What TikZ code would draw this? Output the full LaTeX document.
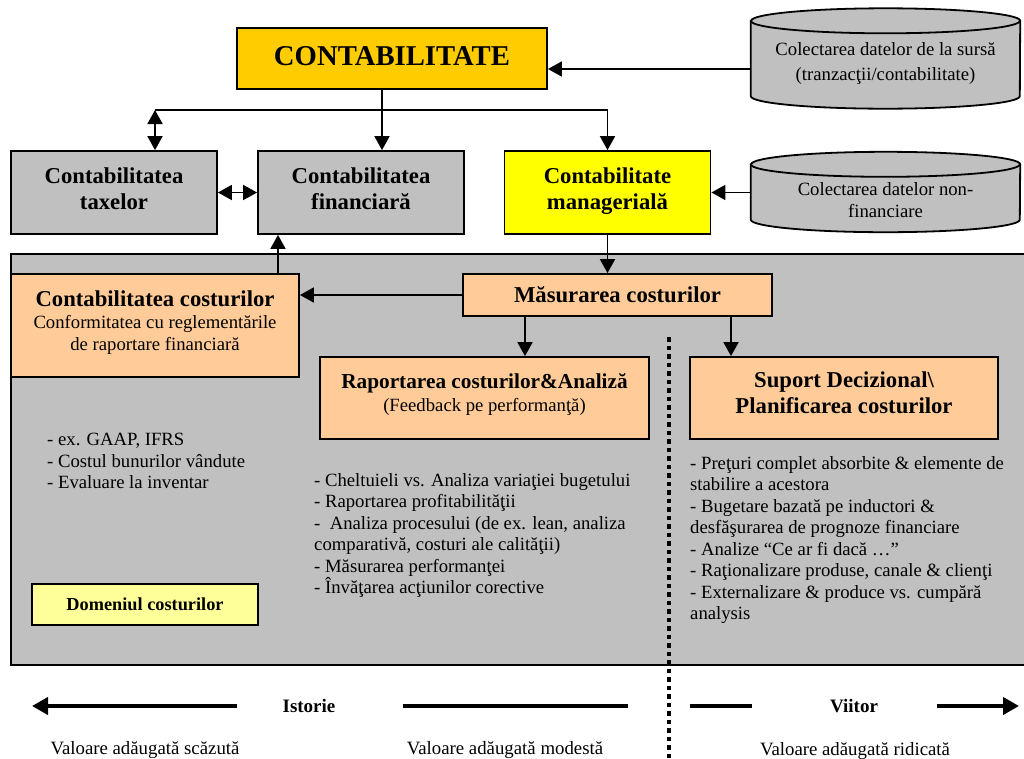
\documentclass[tikz,border=0pt]{standalone}
\usepackage{fontspec}
\setmainfont{Liberation Serif}
\usepackage{xcolor}
\definecolor{goldfill}{HTML}{FFCC00}
\definecolor{yellowfill}{HTML}{FFFF00}
\definecolor{grayfill}{HTML}{C0C0C0}
\definecolor{peachfill}{HTML}{FFCC99}
\definecolor{paleyellow}{HTML}{FFFF99}
\usetikzlibrary{arrows.meta,backgrounds}

\begin{document}
\begin{tikzpicture}[x=1pt, y=-1pt,
    box/.style={draw, line width=1.8pt, inner sep=0pt, align=center},
    graybox/.style={box, fill=grayfill, minimum width=206pt, minimum height=83pt, text depth=8pt, font=\fontsize{22.7}{26.5}\selectfont\bfseries},
    peachbox/.style={box, fill=peachfill},
    storebox/.style={minimum width=269pt, minimum height=100pt, inner sep=0pt, align=center, font=\fontsize{18.7}{24.5}\selectfont},
    drum/.style={draw, line width=1.8pt, fill=grayfill},
    drumcap/.style={x radius=134.5pt, y radius=12.5pt},
    link/.style={-{Triangle[length=14pt, width=15pt]}, line width=1.8pt},
    both/.style={{Triangle[length=14pt, width=15pt]}-{Triangle[length=14pt, width=15pt]}, line width=1.8pt},
    timeline/.style={line width=4pt},
    timearrow/.style={-{Triangle[length=16pt, width=17pt]}, line width=4pt},
    dotline/.style={line width=4.5pt, dash pattern=on 4.5pt off 4pt},
    listtext/.style={align=left, inner sep=0pt, anchor=north west, font=\fontsize{18.7}{21.5}\selectfont}
]
  \useasboundingbox (0,0) rectangle (1024,758);

  % Top level
  \node[box, fill=goldfill, minimum width=310pt, minimum height=61pt, text depth=6pt, font=\fontsize{28.7}{32}\selectfont\bfseries] (acct) at (392,58.5) {CONTABILITATE};
  \node[storebox, text height=47pt] (srcdata) at (885.5,58.5) {Colectarea datelor de la sursă\\(tranzacţii/contabilitate)};

  % Second level
  \node[graybox] (tax) at (114,192.5) {Contabilitatea\\taxelor};
  \node[graybox] (fin) at (361,192.5) {Contabilitatea\\financiară};
  \node[graybox, fill=yellowfill] (mgmt) at (607.5,192.5) {Contabilitate\\managerială};
  \node[storebox, minimum height=80pt, text height=51pt, font=\fontsize{18.7}{22}\selectfont] (nonfin) at (885.5,192) {Colectarea datelor non-\\financiare};

  % Data stores drawn behind their texts
  \begin{scope}[on background layer]
    \foreach \store in {srcdata, nonfin} {
      \filldraw[drum] ([yshift=-12.5pt]\store.north west) -- ([yshift=12.5pt]\store.south west)
        arc[start angle=180, end angle=360, drumcap] -- ([yshift=-12.5pt]\store.north east)
        arc[start angle=0, end angle=180, drumcap] -- cycle;
      \draw[drum, fill=none] ([yshift=-12.5pt]\store.north west) arc[start angle=180, end angle=360, drumcap];
    }
  \end{scope}

  \coordinate (forkL) at (155,110);
  \coordinate (forkR) at (607.5,110);
  \coordinate (acctdown) at ([xshift=-10pt]acct.south);
  \coordinate (srcout) at ([yshift=-10.5pt]srcdata.west);

  \draw[link] (srcout) -- (srcout -| acct.east);
  \draw[link] (acctdown) -- (acctdown |- fin.north);
  \draw[line width=1.8pt] (forkL) -- (forkR);
  \draw[both] (forkL) -- (forkL |- tax.north);
  \draw[link] (forkR) -- (mgmt.north);
  \draw[both] (tax.east) -- (fin.west);
  \draw[link] (nonfin.west |- mgmt.east) -- (mgmt.east);

  % Cost area
  \draw[line width=1.8pt, fill=grayfill] (11,254) rectangle (1030,665);

  \node[peachbox, minimum width=309pt, minimum height=42pt, font=\fontsize{22.7}{26}\selectfont\bfseries] (measure) at (617.5,295) {Măsurarea costurilor};
  \node[peachbox, minimum width=288pt, minimum height=103pt, text depth=10pt, font=\fontsize{18.7}{22}\selectfont] (costacct) at (155,325.5) {{\fontsize{22.7}{25}\selectfont\bfseries Contabilitatea costurilor}\\Conformitatea cu reglementările\\de raportare financiară};
  \node[peachbox, minimum width=329pt, minimum height=82pt, text depth=12pt, font=\fontsize{18.7}{23}\selectfont] (report) at (484.5,398) {{\fontsize{21.3}{24}\selectfont\bfseries Raportarea costurilor\&Analiză}\\(Feedback pe performanţă)};
  \node[peachbox, minimum width=308pt, minimum height=82pt, text depth=11pt, font=\fontsize{22.7}{26}\selectfont\bfseries] (support) at (844,398) {Suport Decizional\textbackslash\\Planificarea costurilor};

  \coordinate (finlink) at ([xshift=-83pt]fin.south);
  \coordinate (toreport) at ([xshift=-92.5pt]measure.south);
  \coordinate (tosupport) at ([xshift=113.5pt]measure.south);

  \draw[link] (mgmt.south) -- (mgmt.south |- measure.north);
  \draw[link] (measure.west) -- (costacct.east |- measure.west);
  \draw[link] (finlink |- costacct.north) -- (finlink);
  \draw[link] (toreport) -- (toreport |- report.north);
  \draw[link] (tosupport) -- (tosupport |- support.north);

  \draw[dotline] (669,337) -- (669,758);

  % Lists
  \node[listtext] (costlist) at (47,433) {- ex. GAAP, IFRS\\- Costul bunurilor vândute\\- Evaluare la inventar};
  \node[listtext] (reportlist) at (314,473) {- Cheltuieli vs. Analiza variaţiei bugetului\\- Raportarea profitabilităţii\\- \ Analiza procesului (de ex. lean, analiza\\comparativă, costuri ale calităţii)\\- Măsurarea performanţei\\- Învăţarea acţiunilor corective};
  \node[listtext] (supportlist) at (690,456) {- Preţuri complet absorbite \& elemente de\\stabilire a acestora\\- Bugetare bazată pe inductori \&\\desfăşurarea de prognoze financiare\\- Analize “Ce ar fi dacă …”\\- Raţionalizare produse, canale \& clienţi\\- Externalizare \& produce vs. cumpără\\analysis};

  \node[box, fill=paleyellow, minimum width=226pt, minimum height=41pt, font=\fontsize{18.3}{21}\selectfont\bfseries] (domain) at (145,604.5) {Domeniul costurilor};

  % Time axis
  \node[font=\fontsize{19}{22}\selectfont\bfseries] (past) at (309,706) {Istorie};
  \node[font=\fontsize{19}{22}\selectfont\bfseries] (future) at (854,706) {Viitor};
  \coordinate (pastA) at (237,706);
  \coordinate (pastB) at (32,706);
  \coordinate (midA) at (403,706);
  \coordinate (midB) at (628,706);
  \coordinate (futA) at (690,706);
  \coordinate (futB) at (752,706);
  \coordinate (futC) at (937,706);
  \coordinate (futD) at (1019,706);
  \draw[timearrow] (pastA) -- (pastB);
  \draw[timeline] (midA) -- (midB);
  \draw[timeline] (futA) -- (futB);
  \draw[timearrow] (futC) -- (futD);

  \node[font=\fontsize{18.8}{22}\selectfont] (lowval) at (145,749.5) {Valoare adăugată scăzută};
  \node[font=\fontsize{18.8}{22}\selectfont] (modval) at (505,749.5) {Valoare adăugată modestă};
  \node[font=\fontsize{18.8}{22}\selectfont] (highval) at (855,750.5) {Valoare adăugată ridicată};
\end{tikzpicture}
\end{document}
